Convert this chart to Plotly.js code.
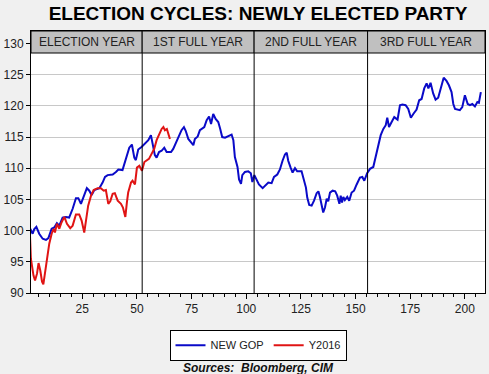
<!DOCTYPE html>
<html>
<head>
<meta charset="utf-8">
<script src="https://cdn.plot.ly/plotly-3.0.1.min.js"></script>
<style>html,body{margin:0;padding:0;background:#f0f0f0;}#chart{width:489px;height:374px;}</style>
</head>
<body>
<div id="chart"></div>
<script>
// NEW GOP (blue) - week index and index value
const gopWeeks = [1.2,2.3,3,4,5.3,6.9,8.4,9.5,11,12.2,13.4,14.5,16,17.5,19,20.6,22.1,23.2,24.4,25.6,27.1,28.2,29.3,30.5,32.8,34.3,35.4,36.6,38.9,40.4,41.5,43.4,45,46.5,47.7,48.8,49.5,50.6,52.1,53.7,55.2,56.4,57.5,58.2,59,60.1,61.3,62.5,63.6,65.6,66.6,68.9,70.4,71.5,72.3,73.5,75.8,76.5,77.8,78.8,79.6,80.8,81.9,83,83.9,84.9,86,87.2,88.1,89,90.3,91.8,93.3,94.1,94.8,96,96.7,97.6,98.2,99.4,100.9,102.1,102.8,103.7,104.7,105.8,107.5,109,110.1,111.6,112.7,114.2,115.4,116.6,117.7,118.5,119.2,120.3,121.2,122.3,123.3,125.3,126.1,127.3,127.9,128.8,129.9,131,132.2,133,133.7,134.5,135.2,136,136.8,137.5,138.3,139.5,140.7,141.6,142.6,143.2,143.8,144.4,145.1,146.2,147.1,148.2,149.3,150.5,152,153.1,154,155.3,156.6,158.1,159.2,160.4,161.5,162.7,163.8,164.5,165.3,166.5,167.7,169.2,170.3,171.4,172.9,174.1,175.3,176.4,177.9,179.1,180.2,181.4,182.5,183.3,184.3,185.5,186.6,187.8,189.1,190.3,191.6,192.7,193.9,194.7,195.5,196.7,197.7,198.8,200,201.3,202.3,203.4,204.6,205.7,206.4,207.3];
const gopValues = [100.3,99.5,100.2,100.6,99.5,98.7,98.5,98.8,100.3,100.5,101.2,100.8,102.1,102.2,102.1,103.5,105.2,105.2,104.3,105.3,106.8,106.4,105.7,106.5,106.8,107.7,108.6,108.9,109.0,109.4,109.8,109.7,111.4,113.3,113.8,111.7,111.3,113.0,113.4,113.9,114.5,115.3,113.4,112.1,111.7,112.6,112.8,113.3,112.6,112.6,113.1,115.0,116.1,116.6,116.0,114.7,113.7,114.7,115.1,116.1,116.3,116.6,117.7,118.3,117.1,118.7,117.9,117.4,116.3,115.0,114.9,115.1,115.4,114.5,111.8,110.2,108.2,107.5,108.9,109.4,109.5,109.2,107.8,108.9,108.3,107.4,106.8,107.4,107.7,107.6,108.6,109.0,109.8,111.2,112.2,112.5,111.2,110.1,109.3,110.0,109.5,109.5,108.5,106.9,105.3,104.1,104.0,104.8,106.0,106.3,105.4,104.3,102.9,103.7,105.1,104.7,106.1,106.4,106.3,105.6,104.3,105.6,104.5,105.4,104.9,105.4,104.8,106.1,106.4,107.4,108.5,108.6,108.0,109.2,109.9,110.2,111.8,113.7,115.3,116.3,116.9,118.1,116.6,117.4,118.2,117.8,120.1,120.2,120.1,119.5,118.1,118.7,119.4,120.9,121.1,122.8,123.6,122.8,123.7,122.0,121.0,121.3,123.1,124.5,124.0,123.3,122.2,120.3,119.5,119.4,119.3,119.8,121.7,120.3,120.1,120.3,119.9,120.6,120.5,122.2];

// Y2016 (red)
const y2016Weeks = [1,1.5,2.7,3.4,4.3,5,5.8,6.6,7.2,7.9,8.8,9.9,11,11.9,12.5,13.4,14.5,15.5,16.8,18,19.5,20.6,22.1,23.6,24.7,25.9,26.7,27.7,29,30.2,32,33.5,34.8,35.8,36.9,37.8,38.9,39.9,41.2,42.7,43.6,44.7,45.4,46,47.3,48,49.1,50,51.1,52.3,53.4,54.4,55.5,56.7,57.9,59,60.1,61.3,62.1,62.8,63.7,64.3,65.1];
const y2016Values = [100.0,95.5,92.8,92.0,93.1,94.8,93.6,91.8,91.4,93.1,95.0,97.9,99.5,100.3,99.7,101.1,100.3,101.3,102.2,101.1,100.4,100.8,102.6,102.6,101.6,99.7,101.6,104.0,105.6,106.5,106.8,106.8,106.4,106.5,104.3,104.7,105.9,106.0,104.8,104.3,103.7,102.2,104.5,106.1,107.7,108.0,107.4,110.1,110.4,109.6,111.0,111.3,111.5,112.3,113.1,114.5,115.3,116.3,116.6,116.1,116.3,115.5,114.7];

// Period bands
const periodLabels = ["ELECTION YEAR","1ST FULL YEAR","2ND FULL YEAR","3RD FULL YEAR"];
const periodBounds = [1.55, 52.4, 103.6, 155.5, 209.2];

const yTicks = [90,95,100,105,110,115,120,125,130];
const xTicks = [25,50,75,100,125,150,175,200];

const FONT = "'Liberation Sans', Arial, sans-serif";

const traces = [
  {x: gopWeeks, y: gopValues, type: 'scatter', mode: 'lines', name: 'NEW GOP',
   line: {color: '#0a0ac8', width: 2}},
  {x: y2016Weeks, y: y2016Values, type: 'scatter', mode: 'lines', name: 'Y2016',
   line: {color: '#e01414', width: 2}}
];

const bandBottom = 0.916;
const shapes = [];
const annotations = [];
for (let i = 0; i < periodLabels.length; i++) {
  shapes.push({type: 'rect', xref: 'x', yref: 'paper', x0: periodBounds[i], x1: periodBounds[i+1],
    y0: bandBottom, y1: 1, fillcolor: '#c0c0c0', line: {color: '#000', width: 1}, layer: 'above'});
  annotations.push({xref: 'x', yref: 'paper', x: (periodBounds[i] + periodBounds[i+1]) / 2,
    y: (bandBottom + 1) / 2, text: periodLabels[i], showarrow: false,
    font: {family: FONT, size: 12, color: '#222'}, xanchor: 'center', yanchor: 'middle'});
  if (i > 0) {
    shapes.push({type: 'line', xref: 'x', yref: 'paper', x0: periodBounds[i], x1: periodBounds[i],
      y0: 0, y1: bandBottom, line: {color: '#000', width: 1}, layer: 'above'});
  }
}
annotations.push({xref: 'paper', yref: 'paper', x: 0.5, y: -0.285, showarrow: false,
  text: '<b><i>Sources:  Bloomberg, CIM</i></b>', xanchor: 'center', yanchor: 'middle',
  font: {family: FONT, size: 12, color: '#111'}});

const layout = {
  width: 489, height: 374,
  margin: {l: 31, r: 4, t: 31, b: 81, pad: 0},
  paper_bgcolor: '#f0f0f0', plot_bgcolor: '#ffffff',
  font: {family: FONT, size: 12, color: '#222'},
  title: {text: '<b>ELECTION CYCLES: NEWLY ELECTED PARTY</b>', font: {family: FONT, size: 19, color: '#000'},
    x: 0.5, xref: 'paper', xanchor: 'center', y: 0.965, yref: 'container', yanchor: 'middle'},
  showlegend: true,
  legend: {orientation: 'h', x: 0.5, xanchor: 'center', y: -0.14, yanchor: 'top',
    bgcolor: '#ffffff', bordercolor: '#000', borderwidth: 1, itemwidth: 30,
    font: {family: FONT, size: 11, color: '#222'}},
  xaxis: {range: [1.55, 209.2], tickvals: xTicks, ticks: 'outside', ticklen: 5, tickcolor: '#000',
    showgrid: false, zeroline: false, showline: true, mirror: true, linecolor: '#000', linewidth: 1,
    minor: {tickmode: 'linear', tick0: 0, dtick: 5, ticks: 'outside', ticklen: 3, tickcolor: '#000', showgrid: false},
    tickfont: {family: FONT, size: 12, color: '#222'}},
  yaxis: {range: [90, 132], tickvals: yTicks, ticks: 'outside', ticklen: 4, tickcolor: '#000',
    showgrid: true, gridcolor: '#c8c8c8', gridwidth: 1, zeroline: false, showline: true, mirror: true,
    linecolor: '#000', linewidth: 1, tickfont: {family: FONT, size: 12, color: '#222'}},
  shapes: shapes,
  annotations: annotations
};

Plotly.newPlot('chart', traces, layout, {displayModeBar: false, staticPlot: true});
</script>
</body>
</html>
